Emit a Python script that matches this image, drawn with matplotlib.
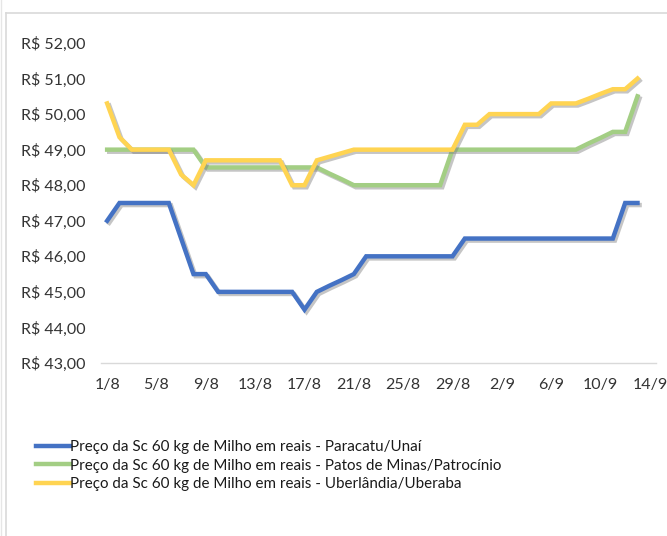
import matplotlib
matplotlib.use("Agg")
import matplotlib.pyplot as plt
import matplotlib.patheffects as pe
from matplotlib.lines import Line2D
import numpy as np

# --- data (one value per day, 1/8 .. 13/9) ---
paracatu = [47.0, 47.5, 47.5, 47.5, 47.5, 47.5, 46.5, 45.5, 45.5, 45.0,
            45.0, 45.0, 45.0, 45.0, 45.0, 45.0, 44.5, 45.0, 45.17, 45.33,
            45.5, 46.0, 46.0, 46.0, 46.0, 46.0, 46.0, 46.0, 46.0, 46.5,
            46.5, 46.5, 46.5, 46.5, 46.5, 46.5, 46.5, 46.5, 46.5, 46.5,
            46.5, 46.5, 47.5, 47.5]
patos = [49.0, 49.0, 49.0, 49.0, 49.0, 49.0, 49.0, 49.0, 48.5, 48.5,
         48.5, 48.5, 48.5, 48.5, 48.5, 48.5, 48.5, 48.5, 48.33, 48.17,
         48.0, 48.0, 48.0, 48.0, 48.0, 48.0, 48.0, 48.0, 49.0, 49.0,
         49.0, 49.0, 49.0, 49.0, 49.0, 49.0, 49.0, 49.0, 49.0, 49.17,
         49.33, 49.5, 49.5, 50.5]
uberlandia = [50.3, 49.35, 49.0, 49.0, 49.0, 49.0, 48.3, 48.0, 48.7, 48.7,
              48.7, 48.7, 48.7, 48.7, 48.7, 48.0, 48.0, 48.7, 48.8, 48.9,
              49.0, 49.0, 49.0, 49.0, 49.0, 49.0, 49.0, 49.0, 49.0, 49.7,
              49.7, 50.0, 50.0, 50.0, 50.0, 50.0, 50.3, 50.3, 50.3, 50.43,
              50.57, 50.7, 50.7, 51.0]
tick_labels = ["1/8", "5/8", "9/8", "13/8", "17/8", "21/8", "25/8", "29/8",
               "2/9", "6/9", "10/9", "14/9"]
y_ticks = [43, 44, 45, 46, 47, 48, 49, 50, 51, 52]
series_names = [
    "Preço da Sc 60 kg de Milho em reais - Paracatu/Unaí",
    "Preço da Sc 60 kg de Milho em reais - Patos de Minas/Patrocínio",
    "Preço da Sc 60 kg de Milho em reais - Uberlândia/Uberaba",
]
colors = ["#4472C4", "#A3CE84", "#FFD452"]

plt.rcParams["font.family"] = ["Lato", "DejaVu Sans"]

fig = plt.figure(figsize=(6.67, 5.36), dpi=100)
ax = fig.add_axes([0.1514, 0.3228, 0.8321, 0.5970])

days = np.arange(len(paracatu))
shadow = [pe.SimpleLineShadow(offset=(1.5, -1.5), shadow_color="#7f7f7f", alpha=0.45),
          pe.Normal()]
handles = []
for vals, name, c in zip([paracatu, patos, uberlandia], series_names, colors):
    ax.plot(days, vals, color=c, lw=3.2, solid_joinstyle="miter",
            path_effects=shadow, zorder=3)
    handles.append(Line2D([], [], color=c, lw=3.2, label=name))

ax.set_xlim(-0.5, 44.5)
ax.set_ylim(43, 52)
ax.set_xticks(np.arange(0, 45, 4))
ax.set_xticklabels(tick_labels)
ax.set_yticks(y_ticks)
ax.set_yticklabels(["R$ %d,00" % v for v in y_ticks])
ax.tick_params(length=0, labelsize=11.5, colors="#333333")
ax.tick_params(axis="y", pad=11)
ax.tick_params(axis="x", pad=11)
for s in ["top", "right", "left"]:
    ax.spines[s].set_visible(False)
ax.spines["bottom"].set_color("#D9D9D9")
ax.spines["bottom"].set_linewidth(1)

# chart area border (left and top visible)
fig.add_artist(Line2D([6 / 667, 6 / 667], [0, 1 - 13 / 536], color="#D9D9D9", lw=1.2))
fig.add_artist(Line2D([6 / 667, 1], [1 - 13 / 536, 1 - 13 / 536], color="#D9D9D9", lw=1.2))
fig.add_artist(Line2D([1.5 / 667, 1.5 / 667], [0, 1], color="#E6E6E6", lw=1))

fig.legend(handles=handles, loc="upper left", bbox_to_anchor=(36 / 667, 1 - 440 / 536),
           frameon=False, fontsize=10.9, handlelength=2.25, handletextpad=0.0,
           labelspacing=0.3, borderaxespad=0, borderpad=0, labelcolor="#1a1a1a")

fig.savefig("out.png", dpi=100, facecolor="white")
